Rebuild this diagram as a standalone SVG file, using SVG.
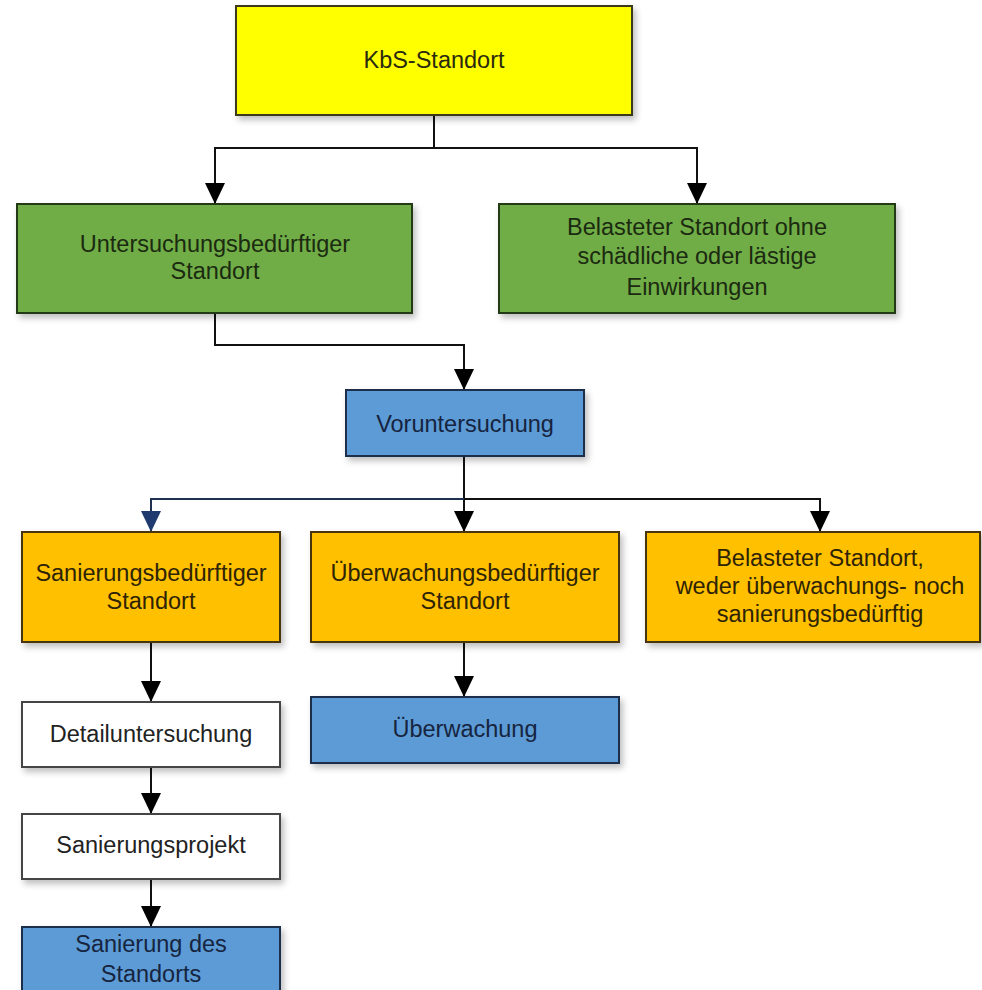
<svg xmlns="http://www.w3.org/2000/svg" width="982" height="990" viewBox="0 0 982 990">
<defs>
<filter id="sh" x="-5%" y="-10%" width="112%" height="130%">
<feDropShadow dx="3" dy="4" stdDeviation="3" flood-color="#000" flood-opacity="0.25"/>
</filter>
<marker id="ah" markerUnits="userSpaceOnUse" markerWidth="22" markerHeight="22" refX="21" refY="10" orient="auto">
<path d="M0,0 L21,10 L0,20 z" fill="#000"/>
</marker>
<marker id="ahb" markerUnits="userSpaceOnUse" markerWidth="22" markerHeight="22" refX="21" refY="10" orient="auto">
<path d="M0,0 L21,10 L0,20 z" fill="#1F3A6E"/>
</marker>
</defs>
<style>
text{font-family:"Liberation Sans",Arial,sans-serif;font-size:23.5px;text-anchor:middle}
.box{stroke-width:2;filter:url(#sh)}
.yel{fill:#FFFF00;stroke:#3a3a1a}
.grn{fill:#70AD47;stroke:#243a18}
.blu{fill:#5B9BD5;stroke:#1f2f48}
.org{fill:#FFC000;stroke:#4a3510}
.wht{fill:#FFFFFF;stroke:#444}
.tg{fill:#1b2a10}
.tb{fill:#16243f}
.to{fill:#2e2305}
.ty{fill:#2a2a10}
.tw{fill:#222}
.con{fill:none;stroke:#111;stroke-width:2}
.conb{fill:none;stroke:#1F3050;stroke-width:2}
</style>
<g id="connectors">
<path class="con" d="M434,115 V148"/>
<path class="con" d="M434,148 H215 V204" marker-end="url(#ah)"/>
<path class="con" d="M434,148 H697 V204" marker-end="url(#ah)"/>
<path class="con" d="M215,313 V345 H464 V390" marker-end="url(#ah)"/>
<path class="con" d="M464,456 V532" marker-end="url(#ah)"/>
<path class="conb" d="M464,499 H151 V532" marker-end="url(#ahb)"/>
<path class="con" d="M464,499 H820 V532" marker-end="url(#ah)"/>
<path class="con" d="M151,642 V702" marker-end="url(#ah)"/>
<path class="con" d="M151,767 V814" marker-end="url(#ah)"/>
<path class="con" d="M151,879 V927" marker-end="url(#ah)"/>
<path class="con" d="M464,642 V697" marker-end="url(#ah)"/>
</g>
<g id="kbs">
<rect class="box yel" x="236" y="6" width="396" height="109"/>
<text class="ty" x="434" y="68">KbS-Standort</text>
</g>
<g id="untersuchungsbeduerftig">
<rect class="box grn" x="17" y="204" width="395" height="109"/>
<text class="tg" x="215" y="252">Untersuchungsbedürftiger</text>
<text class="tg" x="215" y="279">Standort</text>
</g>
<g id="belastet-ohne">
<rect class="box grn" x="499" y="204" width="396" height="109"/>
<text class="tg" x="697" y="235">Belasteter Standort ohne</text>
<text class="tg" x="697" y="264">schädliche oder lästige</text>
<text class="tg" x="697" y="295">Einwirkungen</text>
</g>
<g id="voruntersuchung">
<rect class="box blu" x="346" y="390" width="238" height="66"/>
<text class="tb" x="465" y="432">Voruntersuchung</text>
</g>
<g id="sanierungsbeduerftig">
<rect class="box org" x="22" y="532" width="258" height="110"/>
<text class="to" x="151" y="581">Sanierungsbedürftiger</text>
<text class="to" x="151" y="609">Standort</text>
</g>
<g id="ueberwachungsbeduerftig">
<rect class="box org" x="311" y="532" width="308" height="110"/>
<text class="to" x="465" y="581">Überwachungsbedürftiger</text>
<text class="to" x="465" y="609">Standort</text>
</g>
<g id="weder-noch">
<rect class="box org" x="646" y="532" width="334" height="110"/>
<text class="to" x="820" y="566">Belasteter Standort,</text>
<text class="to" x="820" y="594">weder überwachungs- noch</text>
<text class="to" x="820" y="622">sanierungsbedürftig</text>
</g>
<g id="ueberwachung">
<rect class="box blu" x="311" y="697" width="308" height="66"/>
<text class="tb" x="465" y="737">Überwachung</text>
</g>
<g id="detailuntersuchung">
<rect class="box wht" x="22" y="702" width="258" height="65"/>
<text class="tw" x="151" y="742">Detailuntersuchung</text>
</g>
<g id="sanierungsprojekt">
<rect class="box wht" x="22" y="814" width="258" height="65"/>
<text class="tw" x="151" y="853">Sanierungsprojekt</text>
</g>
<g id="sanierung">
<rect class="box blu" x="22" y="927" width="258" height="80"/>
<text class="tb" x="151" y="952">Sanierung des</text>
<text class="tb" x="151" y="982">Standorts</text>
</g>
</svg>
